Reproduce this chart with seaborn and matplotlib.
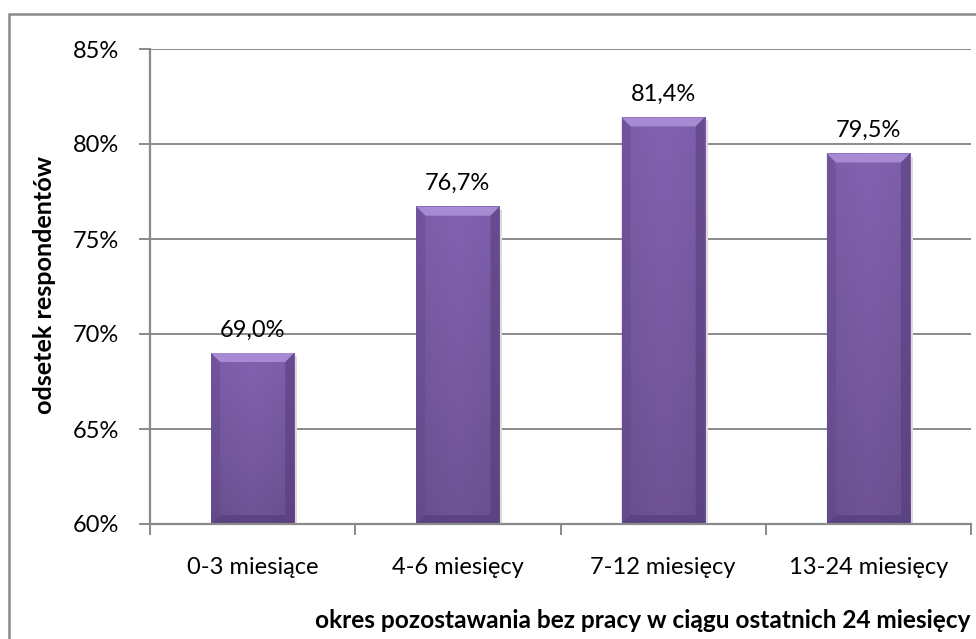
import numpy as np
import pandas as pd
import matplotlib
matplotlib.use("Agg")
import matplotlib.pyplot as plt
import seaborn as sns
from matplotlib.patches import Polygon, Rectangle
from matplotlib.ticker import FixedLocator, FuncFormatter

# Data
categories = ["0-3 miesiące", "4-6 miesięcy", "7-12 miesięcy", "13-24 miesięcy"]
shares = [69.0, 76.7, 81.4, 79.5]
y_ticks = [60, 65, 70, 75, 80, 85]

x_title = "okres pozostawania bez pracy w ciągu ostatnich 24 miesięcy"
y_title = "odsetek respondentów"

sns.set_theme(style="white")
plt.rcParams["font.family"] = ["Lato", "DejaVu Sans"]

W, H = 976, 639
fig = plt.figure(figsize=(W / 100, H / 100), dpi=100)
fig.patch.set_facecolor("white")

# plot area in pixel terms
L, R, T, B = 150, 971, 49, 524
ax = fig.add_axes([L / W, 1 - B / H, (R - L) / W, (B - T) / H])

df = pd.DataFrame({"cat": categories, "val": shares})
sns.barplot(data=df, x="cat", y="val", ax=ax, color="#7F5FA9",
            width=0.405, saturation=1, edgecolor="none", zorder=3)

ylo, yhi = y_ticks[0], y_ticks[-1]
ax.set_ylim(ylo, yhi)
ax.set_xlim(-0.5, len(categories) - 0.5)

grey = "#8a8a8a"
ax.set_yticks(y_ticks)
ax.yaxis.set_major_formatter(FuncFormatter(lambda v, p: f"{v:.0f}%"))
ax.grid(axis="y", color=grey, lw=1.4, zorder=0)
ax.grid(axis="x", visible=False)
for s in ["top", "right"]:
    ax.spines[s].set_visible(False)
for s in ["left", "bottom"]:
    ax.spines[s].set_color(grey)
    ax.spines[s].set_linewidth(1.6)
    ax.spines[s].set_zorder(4)

tick_fs = 17
ax.tick_params(axis="y", which="major", direction="out", length=8, width=1.4,
               color=grey, labelsize=tick_fs, pad=14, labelcolor="black", left=True)
ax.tick_params(axis="x", which="major", length=0, labelsize=tick_fs, pad=24,
               labelcolor="black")
ax.xaxis.set_minor_locator(FixedLocator(np.arange(-0.5, len(categories), 1.0)))
ax.tick_params(axis="x", which="minor", direction="out", length=8, width=1.4,
               color=grey, bottom=True)
ax.set_xlabel("")
ax.set_ylabel("")

# bevelled bar look
fig.canvas.draw()
inv = ax.transData.inverted()
px_x = inv.transform((1, 0))[0] - inv.transform((0, 0))[0]
px_y = inv.transform((0, 1))[1] - inv.transform((0, 0))[1]
bx, by = 9 * px_x, 9 * px_y

grad_cols = np.linspace(0, 1, 200)
horiz = 1 - np.abs(grad_cols - 0.5) * 2
base = np.array([0.515, 0.385, 0.695])
for patch in list(ax.patches):
    x0 = patch.get_x()
    w = patch.get_width()
    x1 = x0 + w
    y1 = patch.get_y() + patch.get_height()
    y0 = ylo
    patch.set_visible(False)
    # soft shadow on the right
    ax.add_patch(Rectangle((x1, y0), 3 * px_x, (y1 - y0) - 3 * px_y,
                           color="#dcdcdc", zorder=2.5, lw=0))
    # body gradient: lighter at top, darker at bottom
    vert = np.linspace(1.0, 0.84, 100)[:, None]
    img = base[None, None, :] * vert[:, :, None] * (0.95 + 0.05 * horiz)[None, :, None]
    ax.imshow(np.clip(img, 0, 1), extent=(x0, x1, y0, y1), aspect="auto",
              zorder=3.1, interpolation="bilinear")
    # top bevel
    ax.add_patch(Polygon([(x0, y1), (x1, y1), (x1 - bx, y1 - by), (x0 + bx, y1 - by)],
                         closed=True, color="#a78bd2", lw=0, zorder=3.3))
    # side bevels
    ax.add_patch(Polygon([(x0, y1), (x0 + bx, y1 - by), (x0 + bx, y0 + by), (x0, y0)],
                         closed=True, color="#5e4386", lw=0, zorder=3.3, alpha=0.35))
    ax.add_patch(Polygon([(x1, y1), (x1 - bx, y1 - by), (x1 - bx, y0 + by), (x1, y0)],
                         closed=True, color="#4e3672", lw=0, zorder=3.3, alpha=0.45))
    # bottom bevel
    ax.add_patch(Polygon([(x0, y0), (x0 + bx, y0 + by), (x1 - bx, y0 + by), (x1, y0)],
                         closed=True, color="#4e3672", lw=0, zorder=3.3, alpha=0.5))

ax.set_ylim(ylo, yhi)
ax.set_xlim(-0.5, len(categories) - 0.5)

# value labels
bars = ax.containers[0]
ax.bar_label(bars, labels=[f"{v:.1f}%".replace(".", ",") for v in shares],
             padding=9, fontsize=tick_fs, color="black", zorder=5)

# axis titles
fig.text(315 / W, 1 - 620 / H, x_title, ha="left", va="center",
         fontsize=17.6, fontweight="bold", color="black")
fig.text(45 / W, 1 - 285 / H, y_title, ha="center", va="center", rotation=90,
         fontsize=18.2, fontweight="bold", color="black")

# chart frame (runs off the right and bottom edges)
fig.add_artist(Rectangle((9 / W, -0.2), 1.5, (H - 14) / H + 0.2,
                         transform=fig.transFigure, fill=False,
                         edgecolor=grey, lw=1.8))

fig.savefig("out.png", dpi=100)
